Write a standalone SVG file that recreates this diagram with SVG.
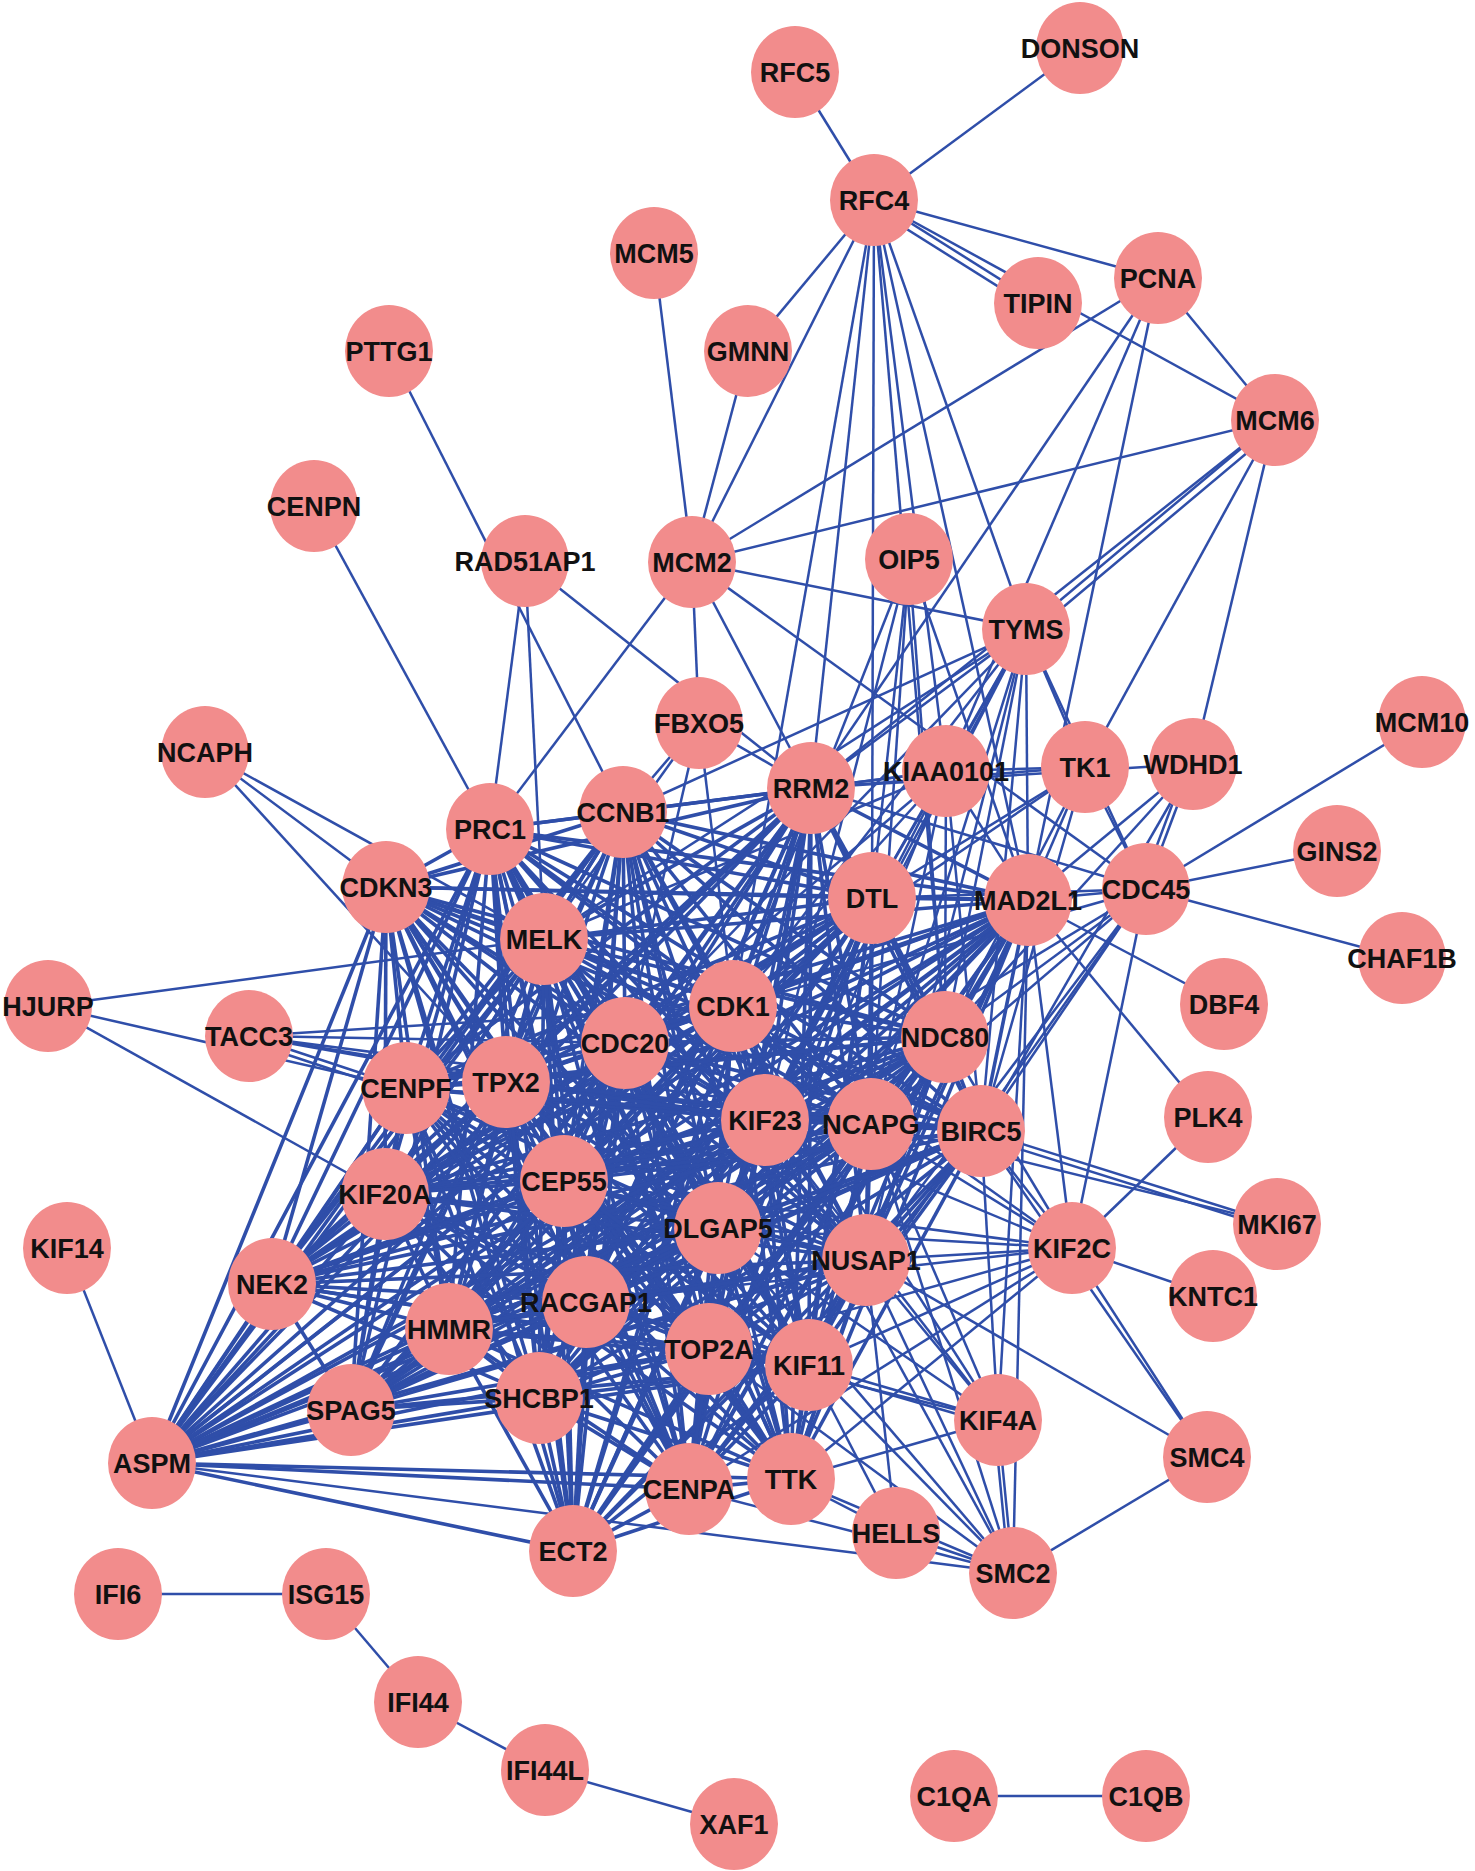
<svg xmlns="http://www.w3.org/2000/svg" width="1475" height="1871" viewBox="0 0 1475 1871">
<style>
.e path{stroke:#2f4ea9;stroke-width:2.5;fill:none}
.e .k path{stroke-width:3.6}
.n ellipse{fill:#f28c8c}
.n text{font-family:"Liberation Sans",Arial,sans-serif;font-weight:bold;font-size:27px;fill:#111;text-anchor:middle}
</style>
<rect width="1475" height="1871" fill="#fff"/>
<g id="connectors" class="e">
<path d="M874 200L795 72"/><path d="M874 200L1080 48"/><path d="M874 200L748 351"/><path d="M874 200L692 562"/><path d="M874 200L1158 278"/><path d="M874 200L1038 303"/><path d="M870 206L1034 309"/><path d="M874 200L1275 420"/><path d="M874 200L811 788"/><path d="M874 200L733 1006"/><path d="M874 200L872 898"/><path d="M874 200L946 771"/><path d="M874 200L1028 900"/><path d="M874 200L1026 629"/><path d="M874 200L945 1037"/>
<path d="M654 253L692 562"/><path d="M748 351L692 562"/>
<path d="M1158 278L692 562"/><path d="M1158 278L811 788"/><path d="M1158 278L946 771"/><path d="M1158 278L1028 900"/><path d="M1158 278L1275 420"/>
<path d="M692 562L1275 420"/><path d="M692 562L1026 629"/><path d="M692 562L1146 889"/><path d="M692 562L811 788"/><path d="M692 562L699 723"/><path d="M692 562L490 829"/>
<path d="M1275 420L1026 629"/><path d="M1279 426L1030 635"/><path d="M1275 420L811 788"/><path d="M1275 420L1085 767"/><path d="M1275 420L1193 764"/>
<path d="M389 351L623 812"/><path d="M314 506L490 829"/>
<path d="M525 561L490 829"/><path d="M525 561L544 939"/><path d="M525 561L811 788"/>
<path d="M699 723L623 812"/><path d="M699 723L733 1006"/><path d="M699 723L625 1043"/><path d="M699 723L811 788"/><path d="M699 723L544 939"/>
<path d="M909 559L1028 900"/><path d="M909 559L945 1037"/><path d="M909 559L872 898"/><path d="M909 559L733 1006"/><path d="M909 559L871 1124"/><path d="M909 559L765 1120"/>
<path d="M1026 629L623 812"/><path d="M1026 629L544 939"/><path d="M1026 629L811 788"/><path d="M1026 629L1085 767"/><path d="M1026 629L872 898"/><path d="M1026 629L1028 900"/><path d="M1026 629L946 771"/><path d="M1026 629L733 1006"/><path d="M1026 629L945 1037"/><path d="M1026 629L981 1131"/><path d="M1026 629L1146 889"/><path d="M1026 629L871 1124"/><path d="M1026 629L765 1120"/><path d="M1026 629L625 1043"/><path d="M1026 629L718 1228"/><path d="M1026 629L866 1260"/>
<path d="M1085 767L811 788"/><path d="M1085 767L1028 900"/><path d="M1085 767L946 771"/><path d="M1085 767L733 1006"/><path d="M1085 767L945 1037"/><path d="M1085 767L1146 889"/><path d="M1085 767L872 898"/><path d="M1085 767L981 1131"/>
<path d="M946 771L811 788"/><path d="M946 771L872 898"/><path d="M946 771L1028 900"/><path d="M946 771L733 1006"/><path d="M946 771L623 812"/><path d="M946 771L945 1037"/><path d="M946 771L981 1131"/><path d="M946 771L709 1349"/><path d="M946 771L765 1120"/><path d="M946 771L544 939"/><path d="M946 771L625 1043"/><path d="M946 771L871 1124"/>
<path d="M1193 764L1146 889"/><path d="M1189 760L1142 885"/><path d="M1193 764L1028 900"/><path d="M1193 764L945 1037"/><path d="M1193 764L981 1131"/><path d="M1193 764L811 788"/>
<path d="M1146 889L1422 722"/><path d="M1146 889L1337 851"/><path d="M1146 889L1402 958"/><path d="M1146 889L1072 1248"/><path d="M1146 889L1028 900"/><path d="M1146 889L945 1037"/><path d="M1146 889L981 1131"/><path d="M1146 889L871 1124"/><path d="M1146 889L872 898"/><path d="M1146 889L811 788"/><path d="M1146 889L733 1006"/><path d="M1146 889L809 1365"/><path d="M1146 889L765 1120"/><path d="M1146 889L866 1260"/>
<path d="M1028 900L1224 1004"/><path d="M1028 900L1208 1117"/><path d="M1028 900L998 1420"/><path d="M1028 900L1013 1573"/>
<path d="M1208 1117L1072 1248"/>
<path d="M1072 1248L1213 1296"/><path d="M1072 1248L1207 1457"/><path d="M1072 1248L1028 900"/><path d="M1072 1248L945 1037"/><path d="M1072 1248L981 1131"/><path d="M1072 1248L871 1124"/><path d="M1072 1248L866 1260"/><path d="M1072 1248L809 1365"/><path d="M1072 1248L765 1120"/><path d="M1072 1248L718 1228"/><path d="M1072 1248L709 1349"/><path d="M1072 1248L733 1006"/><path d="M1072 1248L791 1479"/><path d="M1072 1248L689 1489"/><path d="M1072 1248L564 1181"/><path d="M1072 1248L586 1302"/>
<path d="M1277 1224L981 1131"/><path d="M1277 1230L981 1137"/><path d="M1277 1224L871 1124"/>
<path d="M1207 1457L1013 1573"/><path d="M1207 1457L866 1260"/><path d="M1207 1457L981 1131"/>
<path d="M1013 1573L896 1533"/><path d="M1013 1573L998 1420"/><path d="M1009 1573L994 1420"/><path d="M1013 1573L809 1365"/><path d="M1013 1573L791 1479"/><path d="M1013 1573L152 1463"/><path d="M1013 1573L866 1260"/><path d="M1013 1573L709 1349"/><path d="M1013 1573L718 1228"/><path d="M1013 1573L871 1124"/><path d="M1013 1573L689 1489"/><path d="M1013 1573L765 1120"/>
<path d="M896 1533L809 1365"/><path d="M896 1533L791 1479"/><path d="M896 1533L866 1260"/>
<path d="M998 1420L809 1365"/><path d="M998 1426L809 1371"/><path d="M998 1420L866 1260"/><path d="M998 1420L709 1349"/><path d="M998 1420L981 1131"/><path d="M998 1420L765 1120"/><path d="M998 1420L733 1006"/><path d="M998 1420L718 1228"/><path d="M998 1420L871 1124"/><path d="M998 1420L791 1479"/>
<path d="M249 1036L406 1088"/><path d="M249 1036L506 1082"/><path d="M249 1036L625 1043"/><path d="M249 1036L733 1006"/><path d="M249 1036L765 1120"/><path d="M249 1036L981 1131"/><path d="M249 1042L406 1094"/>
<path d="M48 1006L544 939"/><path d="M48 1006L406 1088"/><path d="M48 1006L385 1194"/>
<path d="M205 752L544 939"/><path d="M205 752L386 887"/><path d="M205 752L506 1082"/>
<path d="M67 1248L152 1463"/>
<path d="M118 1594L326 1594"/><path d="M326 1594L418 1702"/><path d="M418 1702L545 1770"/><path d="M545 1770L734 1824"/><path d="M954 1796L1146 1796"/>
<g class="k">
<path d="M490 829L623 812"/><path d="M490 829L811 788"/><path d="M490 829L386 887"/><path d="M490 829L544 939"/><path d="M490 829L872 898"/><path d="M490 829L1028 900"/><path d="M490 829L733 1006"/><path d="M490 829L625 1043"/><path d="M490 829L945 1037"/><path d="M490 829L406 1088"/><path d="M490 829L506 1082"/><path d="M490 829L765 1120"/><path d="M490 829L871 1124"/><path d="M490 829L981 1131"/><path d="M490 829L385 1194"/><path d="M490 829L564 1181"/><path d="M490 829L718 1228"/><path d="M490 829L866 1260"/><path d="M490 829L272 1284"/><path d="M490 829L586 1302"/><path d="M490 829L449 1329"/><path d="M490 829L709 1349"/><path d="M490 829L809 1365"/><path d="M490 829L539 1398"/><path d="M490 829L351 1410"/><path d="M490 829L152 1463"/><path d="M490 829L689 1489"/><path d="M490 829L791 1479"/><path d="M490 829L573 1551"/>
<path d="M623 812L811 788"/><path d="M623 812L386 887"/><path d="M623 812L544 939"/><path d="M623 812L872 898"/><path d="M623 812L1028 900"/><path d="M623 812L733 1006"/><path d="M623 812L625 1043"/><path d="M623 812L945 1037"/><path d="M623 812L406 1088"/><path d="M623 812L506 1082"/><path d="M623 812L765 1120"/><path d="M623 812L871 1124"/><path d="M623 812L981 1131"/><path d="M623 812L385 1194"/><path d="M623 812L564 1181"/><path d="M623 812L718 1228"/><path d="M623 812L866 1260"/><path d="M623 812L272 1284"/><path d="M623 812L586 1302"/><path d="M623 812L449 1329"/><path d="M623 812L709 1349"/><path d="M623 812L809 1365"/><path d="M623 812L539 1398"/><path d="M623 812L351 1410"/><path d="M623 812L152 1463"/><path d="M623 812L689 1489"/><path d="M623 812L791 1479"/><path d="M623 812L573 1551"/>
<path d="M811 788L386 887"/><path d="M811 788L544 939"/><path d="M811 788L872 898"/><path d="M811 788L1028 900"/><path d="M811 788L733 1006"/><path d="M811 788L625 1043"/><path d="M811 788L945 1037"/><path d="M811 788L406 1088"/><path d="M811 788L506 1082"/><path d="M811 788L765 1120"/><path d="M811 788L871 1124"/><path d="M811 788L981 1131"/><path d="M811 788L385 1194"/><path d="M811 788L564 1181"/><path d="M811 788L718 1228"/><path d="M811 788L866 1260"/><path d="M811 788L272 1284"/><path d="M811 788L586 1302"/><path d="M811 788L449 1329"/><path d="M811 788L709 1349"/><path d="M811 788L809 1365"/><path d="M811 788L539 1398"/><path d="M811 788L351 1410"/><path d="M811 788L152 1463"/><path d="M811 788L689 1489"/><path d="M811 788L791 1479"/><path d="M811 788L573 1551"/>
<path d="M386 887L544 939"/><path d="M386 887L872 898"/><path d="M386 887L1028 900"/><path d="M386 887L733 1006"/><path d="M386 887L625 1043"/><path d="M386 887L945 1037"/><path d="M386 887L406 1088"/><path d="M386 887L506 1082"/><path d="M386 887L765 1120"/><path d="M386 887L871 1124"/><path d="M386 887L981 1131"/><path d="M386 887L385 1194"/><path d="M386 887L564 1181"/><path d="M386 887L718 1228"/><path d="M386 887L866 1260"/><path d="M386 887L272 1284"/><path d="M386 887L586 1302"/><path d="M386 887L449 1329"/><path d="M386 887L709 1349"/><path d="M386 887L809 1365"/><path d="M386 887L539 1398"/><path d="M386 887L351 1410"/><path d="M386 887L152 1463"/><path d="M386 887L689 1489"/><path d="M386 887L791 1479"/><path d="M386 887L573 1551"/>
<path d="M544 939L872 898"/><path d="M544 939L1028 900"/><path d="M544 939L733 1006"/><path d="M544 939L625 1043"/><path d="M544 939L945 1037"/><path d="M544 939L406 1088"/><path d="M544 939L506 1082"/><path d="M544 939L765 1120"/><path d="M544 939L871 1124"/><path d="M544 939L981 1131"/><path d="M544 939L385 1194"/><path d="M544 939L564 1181"/><path d="M544 939L718 1228"/><path d="M544 939L866 1260"/><path d="M544 939L272 1284"/><path d="M544 939L586 1302"/><path d="M544 939L449 1329"/><path d="M544 939L709 1349"/><path d="M544 939L809 1365"/><path d="M544 939L539 1398"/><path d="M544 939L351 1410"/><path d="M544 939L152 1463"/><path d="M544 939L689 1489"/><path d="M544 939L791 1479"/><path d="M544 939L573 1551"/>
<path d="M872 898L1028 900"/><path d="M872 898L733 1006"/><path d="M872 898L625 1043"/><path d="M872 898L945 1037"/><path d="M872 898L406 1088"/><path d="M872 898L506 1082"/><path d="M872 898L765 1120"/><path d="M872 898L871 1124"/><path d="M872 898L981 1131"/><path d="M872 898L385 1194"/><path d="M872 898L564 1181"/><path d="M872 898L718 1228"/><path d="M872 898L866 1260"/><path d="M872 898L272 1284"/><path d="M872 898L586 1302"/><path d="M872 898L449 1329"/><path d="M872 898L709 1349"/><path d="M872 898L809 1365"/><path d="M872 898L539 1398"/><path d="M872 898L351 1410"/><path d="M872 898L152 1463"/><path d="M872 898L689 1489"/><path d="M872 898L791 1479"/><path d="M872 898L573 1551"/>
<path d="M1028 900L733 1006"/><path d="M1028 900L625 1043"/><path d="M1028 900L945 1037"/><path d="M1028 900L406 1088"/><path d="M1028 900L506 1082"/><path d="M1028 900L765 1120"/><path d="M1028 900L871 1124"/><path d="M1028 900L981 1131"/><path d="M1028 900L385 1194"/><path d="M1028 900L564 1181"/><path d="M1028 900L718 1228"/><path d="M1028 900L866 1260"/><path d="M1028 900L272 1284"/><path d="M1028 900L586 1302"/><path d="M1028 900L449 1329"/><path d="M1028 900L709 1349"/><path d="M1028 900L809 1365"/><path d="M1028 900L539 1398"/><path d="M1028 900L351 1410"/><path d="M1028 900L152 1463"/><path d="M1028 900L689 1489"/><path d="M1028 900L791 1479"/><path d="M1028 900L573 1551"/>
<path d="M733 1006L625 1043"/><path d="M733 1006L945 1037"/><path d="M733 1006L406 1088"/><path d="M733 1006L506 1082"/><path d="M733 1006L765 1120"/><path d="M733 1006L871 1124"/><path d="M733 1006L981 1131"/><path d="M733 1006L385 1194"/><path d="M733 1006L564 1181"/><path d="M733 1006L718 1228"/><path d="M733 1006L866 1260"/><path d="M733 1006L272 1284"/><path d="M733 1006L586 1302"/><path d="M733 1006L449 1329"/><path d="M733 1006L709 1349"/><path d="M733 1006L809 1365"/><path d="M733 1006L539 1398"/><path d="M733 1006L351 1410"/><path d="M733 1006L152 1463"/><path d="M733 1006L689 1489"/><path d="M733 1006L791 1479"/><path d="M733 1006L573 1551"/>
<path d="M625 1043L945 1037"/><path d="M625 1043L406 1088"/><path d="M625 1043L506 1082"/><path d="M625 1043L765 1120"/><path d="M625 1043L871 1124"/><path d="M625 1043L981 1131"/><path d="M625 1043L385 1194"/><path d="M625 1043L564 1181"/><path d="M625 1043L718 1228"/><path d="M625 1043L866 1260"/><path d="M625 1043L272 1284"/><path d="M625 1043L586 1302"/><path d="M625 1043L449 1329"/><path d="M625 1043L709 1349"/><path d="M625 1043L809 1365"/><path d="M625 1043L539 1398"/><path d="M625 1043L351 1410"/><path d="M625 1043L152 1463"/><path d="M625 1043L689 1489"/><path d="M625 1043L791 1479"/><path d="M625 1043L573 1551"/>
<path d="M945 1037L406 1088"/><path d="M945 1037L506 1082"/><path d="M945 1037L765 1120"/><path d="M945 1037L871 1124"/><path d="M945 1037L981 1131"/><path d="M945 1037L385 1194"/><path d="M945 1037L564 1181"/><path d="M945 1037L718 1228"/><path d="M945 1037L866 1260"/><path d="M945 1037L272 1284"/><path d="M945 1037L586 1302"/><path d="M945 1037L449 1329"/><path d="M945 1037L709 1349"/><path d="M945 1037L809 1365"/><path d="M945 1037L539 1398"/><path d="M945 1037L351 1410"/><path d="M945 1037L152 1463"/><path d="M945 1037L689 1489"/><path d="M945 1037L791 1479"/><path d="M945 1037L573 1551"/>
<path d="M406 1088L506 1082"/><path d="M406 1088L765 1120"/><path d="M406 1088L871 1124"/><path d="M406 1088L981 1131"/><path d="M406 1088L385 1194"/><path d="M406 1088L564 1181"/><path d="M406 1088L718 1228"/><path d="M406 1088L866 1260"/><path d="M406 1088L272 1284"/><path d="M406 1088L586 1302"/><path d="M406 1088L449 1329"/><path d="M406 1088L709 1349"/><path d="M406 1088L809 1365"/><path d="M406 1088L539 1398"/><path d="M406 1088L351 1410"/><path d="M406 1088L152 1463"/><path d="M406 1088L689 1489"/><path d="M406 1088L791 1479"/><path d="M406 1088L573 1551"/>
<path d="M506 1082L765 1120"/><path d="M506 1082L871 1124"/><path d="M506 1082L981 1131"/><path d="M506 1082L385 1194"/><path d="M506 1082L564 1181"/><path d="M506 1082L718 1228"/><path d="M506 1082L866 1260"/><path d="M506 1082L272 1284"/><path d="M506 1082L586 1302"/><path d="M506 1082L449 1329"/><path d="M506 1082L709 1349"/><path d="M506 1082L809 1365"/><path d="M506 1082L539 1398"/><path d="M506 1082L351 1410"/><path d="M506 1082L152 1463"/><path d="M506 1082L689 1489"/><path d="M506 1082L791 1479"/><path d="M506 1082L573 1551"/>
<path d="M765 1120L871 1124"/><path d="M765 1120L981 1131"/><path d="M765 1120L385 1194"/><path d="M765 1120L564 1181"/><path d="M765 1120L718 1228"/><path d="M765 1120L866 1260"/><path d="M765 1120L272 1284"/><path d="M765 1120L586 1302"/><path d="M765 1120L449 1329"/><path d="M765 1120L709 1349"/><path d="M765 1120L809 1365"/><path d="M765 1120L539 1398"/><path d="M765 1120L351 1410"/><path d="M765 1120L152 1463"/><path d="M765 1120L689 1489"/><path d="M765 1120L791 1479"/><path d="M765 1120L573 1551"/>
<path d="M871 1124L981 1131"/><path d="M871 1124L385 1194"/><path d="M871 1124L564 1181"/><path d="M871 1124L718 1228"/><path d="M871 1124L866 1260"/><path d="M871 1124L272 1284"/><path d="M871 1124L586 1302"/><path d="M871 1124L449 1329"/><path d="M871 1124L709 1349"/><path d="M871 1124L809 1365"/><path d="M871 1124L539 1398"/><path d="M871 1124L351 1410"/><path d="M871 1124L152 1463"/><path d="M871 1124L689 1489"/><path d="M871 1124L791 1479"/><path d="M871 1124L573 1551"/>
<path d="M981 1131L385 1194"/><path d="M981 1131L564 1181"/><path d="M981 1131L718 1228"/><path d="M981 1131L866 1260"/><path d="M981 1131L272 1284"/><path d="M981 1131L586 1302"/><path d="M981 1131L449 1329"/><path d="M981 1131L709 1349"/><path d="M981 1131L809 1365"/><path d="M981 1131L539 1398"/><path d="M981 1131L351 1410"/><path d="M981 1131L152 1463"/><path d="M981 1131L689 1489"/><path d="M981 1131L791 1479"/><path d="M981 1131L573 1551"/>
<path d="M385 1194L564 1181"/><path d="M385 1194L718 1228"/><path d="M385 1194L866 1260"/><path d="M385 1194L272 1284"/><path d="M385 1194L586 1302"/><path d="M385 1194L449 1329"/><path d="M385 1194L709 1349"/><path d="M385 1194L809 1365"/><path d="M385 1194L539 1398"/><path d="M385 1194L351 1410"/><path d="M385 1194L152 1463"/><path d="M385 1194L689 1489"/><path d="M385 1194L791 1479"/>
<path d="M564 1181L718 1228"/><path d="M564 1181L866 1260"/><path d="M564 1181L272 1284"/><path d="M564 1181L586 1302"/><path d="M564 1181L449 1329"/><path d="M564 1181L709 1349"/><path d="M564 1181L809 1365"/><path d="M564 1181L539 1398"/><path d="M564 1181L351 1410"/><path d="M564 1181L152 1463"/><path d="M564 1181L689 1489"/><path d="M564 1181L791 1479"/><path d="M564 1181L573 1551"/>
<path d="M718 1228L866 1260"/><path d="M718 1228L272 1284"/><path d="M718 1228L586 1302"/><path d="M718 1228L449 1329"/><path d="M718 1228L709 1349"/><path d="M718 1228L809 1365"/><path d="M718 1228L539 1398"/><path d="M718 1228L351 1410"/><path d="M718 1228L152 1463"/><path d="M718 1228L689 1489"/><path d="M718 1228L791 1479"/><path d="M718 1228L573 1551"/>
<path d="M866 1260L272 1284"/><path d="M866 1260L586 1302"/><path d="M866 1260L449 1329"/><path d="M866 1260L709 1349"/><path d="M866 1260L809 1365"/><path d="M866 1260L539 1398"/><path d="M866 1260L351 1410"/><path d="M866 1260L152 1463"/><path d="M866 1260L689 1489"/><path d="M866 1260L791 1479"/><path d="M866 1260L573 1551"/>
<path d="M272 1284L586 1302"/><path d="M272 1284L449 1329"/><path d="M272 1284L709 1349"/><path d="M272 1284L809 1365"/><path d="M272 1284L539 1398"/><path d="M272 1284L351 1410"/><path d="M272 1284L152 1463"/>
<path d="M586 1302L449 1329"/><path d="M586 1302L709 1349"/><path d="M586 1302L809 1365"/><path d="M586 1302L539 1398"/><path d="M586 1302L351 1410"/><path d="M586 1302L152 1463"/><path d="M586 1302L689 1489"/><path d="M586 1302L791 1479"/><path d="M586 1302L573 1551"/>
<path d="M449 1329L709 1349"/><path d="M449 1329L809 1365"/><path d="M449 1329L539 1398"/><path d="M449 1329L351 1410"/><path d="M449 1329L152 1463"/><path d="M449 1329L689 1489"/><path d="M449 1329L791 1479"/><path d="M449 1329L573 1551"/>
<path d="M709 1349L809 1365"/><path d="M709 1349L539 1398"/><path d="M709 1349L351 1410"/><path d="M709 1349L152 1463"/><path d="M709 1349L689 1489"/><path d="M709 1349L791 1479"/><path d="M709 1349L573 1551"/>
<path d="M809 1365L539 1398"/><path d="M809 1365L351 1410"/><path d="M809 1365L152 1463"/><path d="M809 1365L689 1489"/><path d="M809 1365L791 1479"/><path d="M809 1365L573 1551"/>
<path d="M539 1398L351 1410"/><path d="M539 1398L152 1463"/><path d="M539 1398L689 1489"/><path d="M539 1398L791 1479"/><path d="M539 1398L573 1551"/>
<path d="M351 1410L152 1463"/>
<path d="M152 1463L689 1489"/><path d="M152 1463L791 1479"/><path d="M152 1463L573 1551"/>
<path d="M689 1489L791 1479"/><path d="M689 1489L573 1551"/><path d="M791 1479L573 1551"/>
</g>
</g>
<g class="n">
<g id="DONSON"><ellipse cx="1080" cy="48" rx="44" ry="46"/><text x="1080" y="58">DONSON</text></g>
<g id="RFC5"><ellipse cx="795" cy="72" rx="44" ry="46"/><text x="795" y="82">RFC5</text></g>
<g id="RFC4"><ellipse cx="874" cy="200" rx="44" ry="46"/><text x="874" y="210">RFC4</text></g>
<g id="MCM5"><ellipse cx="654" cy="253" rx="44" ry="46"/><text x="654" y="263">MCM5</text></g>
<g id="PCNA"><ellipse cx="1158" cy="278" rx="44" ry="46"/><text x="1158" y="288">PCNA</text></g>
<g id="TIPIN"><ellipse cx="1038" cy="303" rx="44" ry="46"/><text x="1038" y="313">TIPIN</text></g>
<g id="GMNN"><ellipse cx="748" cy="351" rx="44" ry="46"/><text x="748" y="361">GMNN</text></g>
<g id="PTTG1"><ellipse cx="389" cy="351" rx="44" ry="46"/><text x="389" y="361">PTTG1</text></g>
<g id="MCM6"><ellipse cx="1275" cy="420" rx="44" ry="46"/><text x="1275" y="430">MCM6</text></g>
<g id="CENPN"><ellipse cx="314" cy="506" rx="44" ry="46"/><text x="314" y="516">CENPN</text></g>
<g id="RAD51AP1"><ellipse cx="525" cy="561" rx="44" ry="46"/><text x="525" y="571">RAD51AP1</text></g>
<g id="MCM2"><ellipse cx="692" cy="562" rx="44" ry="46"/><text x="692" y="572">MCM2</text></g>
<g id="OIP5"><ellipse cx="909" cy="559" rx="44" ry="46"/><text x="909" y="569">OIP5</text></g>
<g id="TYMS"><ellipse cx="1026" cy="629" rx="44" ry="46"/><text x="1026" y="639">TYMS</text></g>
<g id="FBXO5"><ellipse cx="699" cy="723" rx="44" ry="46"/><text x="699" y="733">FBXO5</text></g>
<g id="MCM10"><ellipse cx="1422" cy="722" rx="44" ry="46"/><text x="1422" y="732">MCM10</text></g>
<g id="NCAPH"><ellipse cx="205" cy="752" rx="44" ry="46"/><text x="205" y="762">NCAPH</text></g>
<g id="RRM2"><ellipse cx="811" cy="788" rx="44" ry="46"/><text x="811" y="798">RRM2</text></g>
<g id="KIAA0101"><ellipse cx="946" cy="771" rx="44" ry="46"/><text x="946" y="781">KIAA0101</text></g>
<g id="TK1"><ellipse cx="1085" cy="767" rx="44" ry="46"/><text x="1085" y="777">TK1</text></g>
<g id="WDHD1"><ellipse cx="1193" cy="764" rx="44" ry="46"/><text x="1193" y="774">WDHD1</text></g>
<g id="PRC1"><ellipse cx="490" cy="829" rx="44" ry="46"/><text x="490" y="839">PRC1</text></g>
<g id="CCNB1"><ellipse cx="623" cy="812" rx="44" ry="46"/><text x="623" y="822">CCNB1</text></g>
<g id="GINS2"><ellipse cx="1337" cy="851" rx="44" ry="46"/><text x="1337" y="861">GINS2</text></g>
<g id="CDKN3"><ellipse cx="386" cy="887" rx="44" ry="46"/><text x="386" y="897">CDKN3</text></g>
<g id="DTL"><ellipse cx="872" cy="898" rx="44" ry="46"/><text x="872" y="908">DTL</text></g>
<g id="MAD2L1"><ellipse cx="1028" cy="900" rx="44" ry="46"/><text x="1028" y="910">MAD2L1</text></g>
<g id="CDC45"><ellipse cx="1146" cy="889" rx="44" ry="46"/><text x="1146" y="899">CDC45</text></g>
<g id="MELK"><ellipse cx="544" cy="939" rx="44" ry="46"/><text x="544" y="949">MELK</text></g>
<g id="CHAF1B"><ellipse cx="1402" cy="958" rx="44" ry="46"/><text x="1402" y="968">CHAF1B</text></g>
<g id="HJURP"><ellipse cx="48" cy="1006" rx="44" ry="46"/><text x="48" y="1016">HJURP</text></g>
<g id="CDK1"><ellipse cx="733" cy="1006" rx="44" ry="46"/><text x="733" y="1016">CDK1</text></g>
<g id="DBF4"><ellipse cx="1224" cy="1004" rx="44" ry="46"/><text x="1224" y="1014">DBF4</text></g>
<g id="TACC3"><ellipse cx="249" cy="1036" rx="44" ry="46"/><text x="249" y="1046">TACC3</text></g>
<g id="CDC20"><ellipse cx="625" cy="1043" rx="44" ry="46"/><text x="625" y="1053">CDC20</text></g>
<g id="NDC80"><ellipse cx="945" cy="1037" rx="44" ry="46"/><text x="945" y="1047">NDC80</text></g>
<g id="CENPF"><ellipse cx="406" cy="1088" rx="44" ry="46"/><text x="406" y="1098">CENPF</text></g>
<g id="TPX2"><ellipse cx="506" cy="1082" rx="44" ry="46"/><text x="506" y="1092">TPX2</text></g>
<g id="KIF23"><ellipse cx="765" cy="1120" rx="44" ry="46"/><text x="765" y="1130">KIF23</text></g>
<g id="NCAPG"><ellipse cx="871" cy="1124" rx="44" ry="46"/><text x="871" y="1134">NCAPG</text></g>
<g id="BIRC5"><ellipse cx="981" cy="1131" rx="44" ry="46"/><text x="981" y="1141">BIRC5</text></g>
<g id="PLK4"><ellipse cx="1208" cy="1117" rx="44" ry="46"/><text x="1208" y="1127">PLK4</text></g>
<g id="KIF20A"><ellipse cx="385" cy="1194" rx="44" ry="46"/><text x="385" y="1204">KIF20A</text></g>
<g id="CEP55"><ellipse cx="564" cy="1181" rx="44" ry="46"/><text x="564" y="1191">CEP55</text></g>
<g id="DLGAP5"><ellipse cx="718" cy="1228" rx="44" ry="46"/><text x="718" y="1238">DLGAP5</text></g>
<g id="MKI67"><ellipse cx="1277" cy="1224" rx="44" ry="46"/><text x="1277" y="1234">MKI67</text></g>
<g id="KIF14"><ellipse cx="67" cy="1248" rx="44" ry="46"/><text x="67" y="1258">KIF14</text></g>
<g id="NUSAP1"><ellipse cx="866" cy="1260" rx="44" ry="46"/><text x="866" y="1270">NUSAP1</text></g>
<g id="KIF2C"><ellipse cx="1072" cy="1248" rx="44" ry="46"/><text x="1072" y="1258">KIF2C</text></g>
<g id="NEK2"><ellipse cx="272" cy="1284" rx="44" ry="46"/><text x="272" y="1294">NEK2</text></g>
<g id="KNTC1"><ellipse cx="1213" cy="1296" rx="44" ry="46"/><text x="1213" y="1306">KNTC1</text></g>
<g id="RACGAP1"><ellipse cx="586" cy="1302" rx="44" ry="46"/><text x="586" y="1312">RACGAP1</text></g>
<g id="HMMR"><ellipse cx="449" cy="1329" rx="44" ry="46"/><text x="449" y="1339">HMMR</text></g>
<g id="TOP2A"><ellipse cx="709" cy="1349" rx="44" ry="46"/><text x="709" y="1359">TOP2A</text></g>
<g id="KIF11"><ellipse cx="809" cy="1365" rx="44" ry="46"/><text x="809" y="1375">KIF11</text></g>
<g id="SHCBP1"><ellipse cx="539" cy="1398" rx="44" ry="46"/><text x="539" y="1408">SHCBP1</text></g>
<g id="SPAG5"><ellipse cx="351" cy="1410" rx="44" ry="46"/><text x="351" y="1420">SPAG5</text></g>
<g id="KIF4A"><ellipse cx="998" cy="1420" rx="44" ry="46"/><text x="998" y="1430">KIF4A</text></g>
<g id="ASPM"><ellipse cx="152" cy="1463" rx="44" ry="46"/><text x="152" y="1473">ASPM</text></g>
<g id="SMC4"><ellipse cx="1207" cy="1457" rx="44" ry="46"/><text x="1207" y="1467">SMC4</text></g>
<g id="CENPA"><ellipse cx="689" cy="1489" rx="44" ry="46"/><text x="689" y="1499">CENPA</text></g>
<g id="TTK"><ellipse cx="791" cy="1479" rx="44" ry="46"/><text x="791" y="1489">TTK</text></g>
<g id="HELLS"><ellipse cx="896" cy="1533" rx="44" ry="46"/><text x="896" y="1543">HELLS</text></g>
<g id="ECT2"><ellipse cx="573" cy="1551" rx="44" ry="46"/><text x="573" y="1561">ECT2</text></g>
<g id="SMC2"><ellipse cx="1013" cy="1573" rx="44" ry="46"/><text x="1013" y="1583">SMC2</text></g>
<g id="IFI6"><ellipse cx="118" cy="1594" rx="44" ry="46"/><text x="118" y="1604">IFI6</text></g>
<g id="ISG15"><ellipse cx="326" cy="1594" rx="44" ry="46"/><text x="326" y="1604">ISG15</text></g>
<g id="IFI44"><ellipse cx="418" cy="1702" rx="44" ry="46"/><text x="418" y="1712">IFI44</text></g>
<g id="IFI44L"><ellipse cx="545" cy="1770" rx="44" ry="46"/><text x="545" y="1780">IFI44L</text></g>
<g id="XAF1"><ellipse cx="734" cy="1824" rx="44" ry="46"/><text x="734" y="1834">XAF1</text></g>
<g id="C1QA"><ellipse cx="954" cy="1796" rx="44" ry="46"/><text x="954" y="1806">C1QA</text></g>
<g id="C1QB"><ellipse cx="1146" cy="1796" rx="44" ry="46"/><text x="1146" y="1806">C1QB</text></g>
</g>
</svg>
